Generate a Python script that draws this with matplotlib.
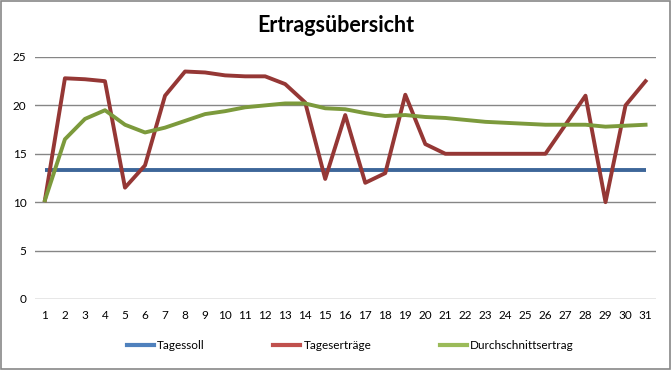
import matplotlib
matplotlib.use('Agg')
import matplotlib.pyplot as plt
from matplotlib.lines import Line2D
from matplotlib.patches import Rectangle

plt.rcParams['font.family'] = ['Lato', 'DejaVu Sans']

# Daten
tage = list(range(1, 32))
tagessoll = [13.3] * 31
tagesertraege = [10.2, 22.8, 22.7, 22.5, 11.5, 13.8, 21.0, 23.5, 23.4, 23.1,
                 23.0, 23.0, 22.2, 20.3, 12.4, 19.0, 12.0, 13.0, 21.1, 16.0,
                 15.0, 15.0, 15.0, 15.0, 15.0, 15.0, 18.0, 21.0, 10.0, 20.0,
                 22.5]
durchschnitt = [10.2, 16.5, 18.6, 19.5, 18.0, 17.2, 17.7, 18.4, 19.1, 19.4,
                19.8, 20.0, 20.2, 20.2, 19.7, 19.6, 19.2, 18.9, 19.0, 18.8,
                18.7, 18.5, 18.3, 18.2, 18.1, 18.0, 18.0, 18.0, 17.8, 17.9,
                18.0]
y_ticks = [0, 5, 10, 15, 20, 25]

fig = plt.figure(figsize=(6.71, 3.70), dpi=100)
ax = fig.add_axes([0.052, 0.192, 0.925, 0.654])

ax.plot(tage, tagessoll, color='#3d6699', lw=2.8, solid_capstyle='butt')
ax.plot(tage, tagesertraege, color='#953735', lw=2.8, solid_joinstyle='round')
ax.plot(tage, durchschnitt, color='#7c9a3c', lw=2.8, solid_joinstyle='round')

ax.set_xlim(0.5, 31.5)
ax.set_ylim(0, 25)
ax.set_xticks(tage)
ax.set_yticks(y_ticks)
ax.tick_params(length=0, labelsize=8.5, pad=6)
ax.tick_params(axis='x', pad=8)
ax.grid(axis='y', color='#868686', lw=1)
ax.set_axisbelow(True)
for s in ax.spines.values():
    s.set_visible(False)

fig.text(0.5, 0.93, 'Ertragsübersicht', ha='center', va='center',
         fontsize=15.5, fontweight='bold')

# Legende
handles = [Line2D([], [], color='#4f81bd', lw=3),
           Line2D([], [], color='#c0504d', lw=3),
           Line2D([], [], color='#9bbb59', lw=3)]
fig.legend(handles, ['Tagessoll', 'Tageserträge', 'Durchschnittsertrag'],
           loc='center', bbox_to_anchor=(0.522, 0.066), ncol=3, frameon=False,
           fontsize=8.5, handlelength=2.3, handletextpad=0.25, columnspacing=5.8)

# Rahmen
fig.patches.append(Rectangle((0.001, 0.002), 0.997, 0.995, transform=fig.transFigure,
                             fill=False, edgecolor='#888888', lw=1.2))

fig.savefig('out.png', dpi=100)
